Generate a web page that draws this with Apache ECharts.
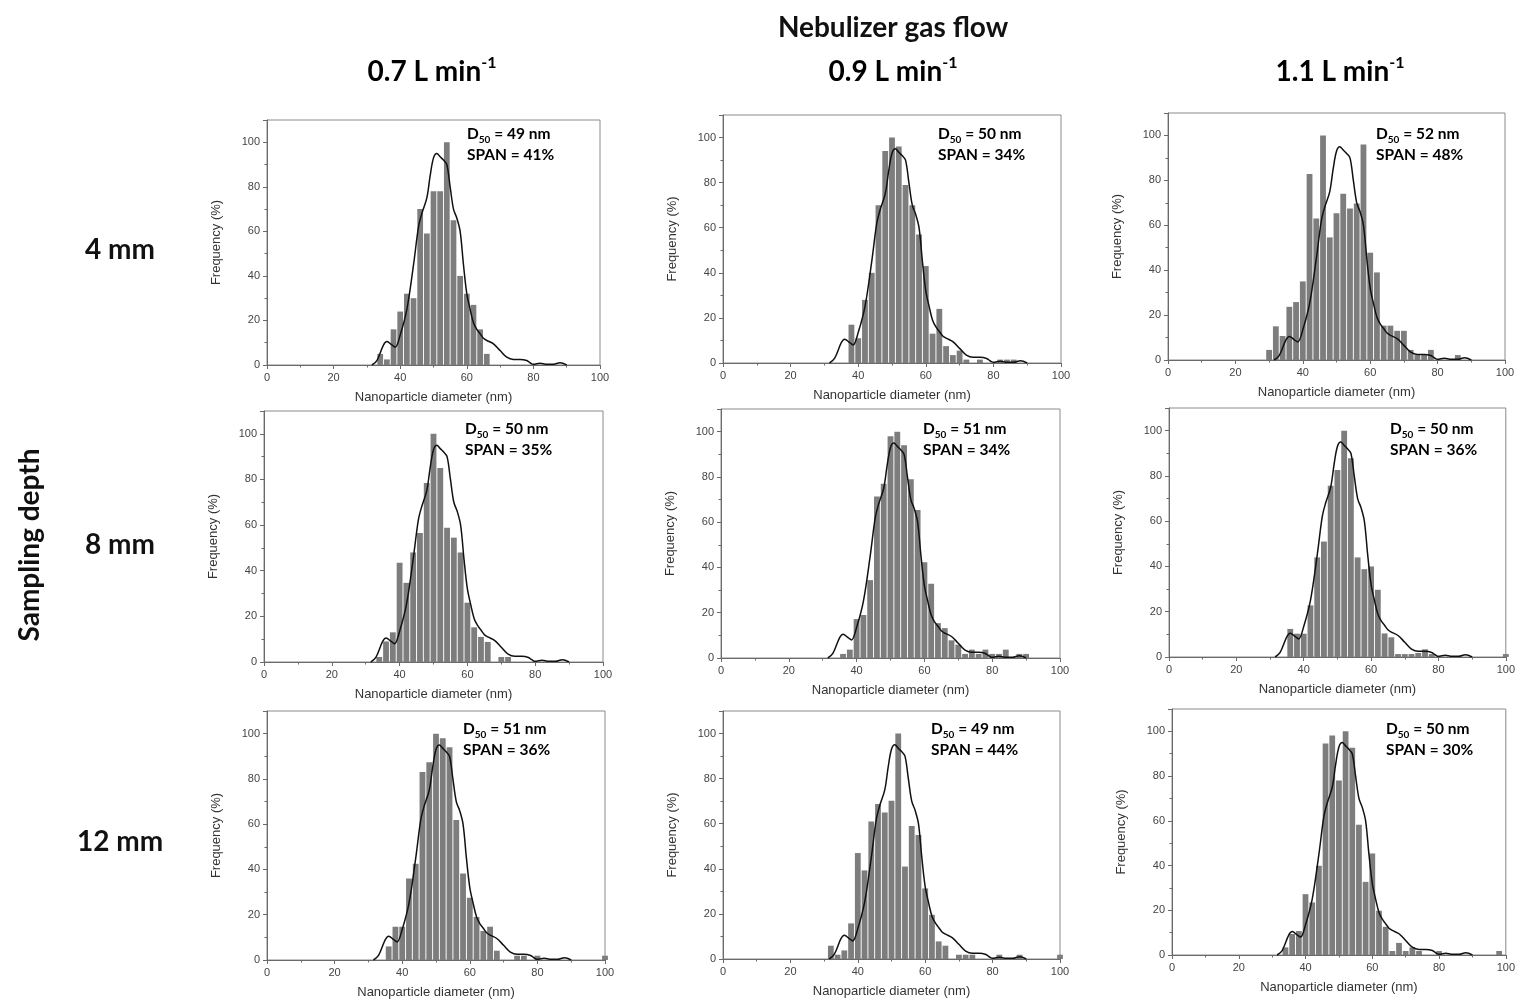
<!DOCTYPE html>
<html><head><meta charset="utf-8">
<script src="https://cdn.jsdelivr.net/npm/echarts@6/dist/echarts.min.js"></script>
<style>html,body{margin:0;padding:0;background:#fff}#c{width:1518px;height:1001px}</style>
</head><body><div id="c"></div><script>
// ---- DATA ----
const flows = ['0.7', '0.9', '1.1'];            // L min^-1
const depths = ['4 mm', '8 mm', '12 mm'];
const bins = [30,32,34,36,38,40,42,44,46,48,50,52,54,56,58,60,62,64,66,68,70,72,74,76,78,80,82,84,86,88,90,92,94,96,98,100];
const f07_d4  = [0,0,5,2.5,16,24,32,30,70,59,78,78,100,65,40,32,27,16,5,0,0,0,0,0,0,0,0,0,0,0,0,0,0,0,0,0];
const f09_d4  = [0,0,0,0,17,11,28,40,70,94,100,96,79,70,57,43,13,24,7.5,3.5,5.5,1.5,0,1.5,0,0,1.5,1.5,1.5,0,0,0,0,0,0,0];
const f11_d4  = [4.5,15,10.7,23.7,25.8,35,82.8,63,100,54.6,65.3,74,67.5,69.7,96,47.8,39,15.3,15.3,13,13,4.5,2.2,2.2,4.5,0,0,0,2.2,0,0,0,0,0,0,0];
const f07_d8  = [0,0,2.2,9,13,43.5,34.7,48,56.5,78.4,100,85,58.8,54.5,48,26,15.2,11,8.8,0,2.2,2.2,0,0,0,0,0,0,0,0,0,0,0,0,0,0];
const f09_d8  = [0,0,0,1.8,3.7,17.2,19,34.4,71.3,77,98,100,94,79,65.4,42.3,32.8,15.4,13.2,7.8,5.9,1.8,3.7,1.8,3.7,1.8,1.8,3.7,0,1.8,1.8,0,0,0,0,0];
const f11_d8  = [0,0,0,12.4,10.3,10.3,22.8,44,51,75.6,82.6,100,87.8,44,38.8,40,29.7,10.4,8.7,1.3,1.3,1.3,1.8,3.4,1.3,0,0,0,0,0,0,0,0,0,0,1.3];
const f07_d12 = [0,0,0,6,14.7,14.7,36,42.5,83,87.4,100,98,94,61.8,38.2,27.5,19,12.8,14.7,4.1,0,0,1.9,1.9,0,1.9,0,0,0,0,0,0,0,0,0,1.9];
const f09_d12 = [0,5.9,1.9,3.8,15.8,47,39.3,61,68.7,65,70.2,100,41,59,55,31.3,19.6,7.8,5.9,0,1.9,1.9,1.9,0,0,0,1.9,0,0,1.9,0,0,0,0,0,1.9];
const f11_d12 = [0,0,3.4,9.4,10.7,27.2,23.5,39.9,94.6,98.2,78,100,92.7,58.2,32.7,45.4,19.8,12.6,1.8,5.4,1.8,3.4,1.8,0,0,1.8,0,0,0,0,0,0,0,0,1.8,0];
const panelValues = [f07_d4, f09_d4, f11_d4, f07_d8, f09_d8, f11_d8, f07_d12, f09_d12, f11_d12];
const d50 = [49, 50, 52, 50, 51, 50, 51, 49, 50];
const span = [41, 34, 48, 35, 34, 36, 36, 44, 30];
// fitted distribution curve (same in every panel)
const curveX = [31.5,33,35,36,37.5,38.5,40,42,44,45.5,46.5,48,49,50,51,52,53,54,55,56,57,58,59,60,61,62,63,64,65,66,68,70,72,74,76,78,79,80,82,84,86,88,90];
const curveY = [0,2,9,10.5,9,8,13.5,25,45,62,68,75,85,93,95,93.5,92,90,80,70,66,60,45,32,25,19,16,14,12,11,9.5,6.5,3.5,2.5,2.5,2,1,0.3,0.8,0.3,0.3,1,0];
const xTicks = {min: 0, max: 100, step: 20};
const yTicks = {min: 0, max: 110, step: 20};

// ---- LAYOUT ----
const gridBoxes = [[267,120,333,245],[723,115,338,248],[1168,113,337,247],
                   [264,411,339,251],[721,409,339,249],[1169,408,339,249],
                   [267,711,338,249],[723,711,337,248],[1172,709,335,246]];
const notePos = [[467,126],[938,126],[1376,126],[465,421],[923,421],[1390,421],[463,721],[931,721],[1386,721]];
const flowPos = [432, 893, 1340];
const depthPos = [250, 545, 842];

const tickFont = 'Liberation Sans, Arial, sans-serif';
const headFont = 'Lato, "Open Sans", sans-serif';
const axisCol = '#6a6a6a';
const headSize = 28;

const grids = [], xAxes = [], yAxes = [], series = [], graphics = [];
gridBoxes.forEach((g, i) => {
  grids.push({left: g[0], top: g[1], width: g[2], height: g[3], show: true, borderColor: '#8a8a8a', borderWidth: 1, containLabel: false});
  xAxes.push({
    type: 'value', gridIndex: i, min: xTicks.min, max: xTicks.max, interval: xTicks.step,
    axisLine: {show: true, onZero: false, lineStyle: {color: axisCol, width: 1}},
    axisTick: {show: true, inside: false, length: 4, lineStyle: {color: axisCol}},
    minorTick: {show: true, splitNumber: 2, length: 2.5, lineStyle: {color: axisCol}},
    splitLine: {show: false},
    axisLabel: {fontSize: 11, color: '#444', margin: 7, fontFamily: tickFont},
    name: 'Nanoparticle diameter (nm)', nameLocation: 'middle', nameGap: 26,
    nameTextStyle: {fontSize: 13, color: '#333', fontFamily: tickFont}
  });
  yAxes.push({
    type: 'value', gridIndex: i, min: yTicks.min, max: yTicks.max, interval: yTicks.step,
    axisLine: {show: true, onZero: false, lineStyle: {color: axisCol, width: 1}},
    axisTick: {show: true, inside: false, length: 4, lineStyle: {color: axisCol}},
    minorTick: {show: true, splitNumber: 2, length: 2.5, lineStyle: {color: axisCol}},
    splitLine: {show: false},
    axisLabel: {fontSize: 11, color: '#444', margin: 7, fontFamily: tickFont, showMaxLabel: false},
    name: 'Frequency (%)', nameLocation: 'middle', nameGap: 44,
    nameTextStyle: {fontSize: 13, color: '#333', fontFamily: tickFont}
  });
  const vals = panelValues[i];
  series.push({
    type: 'bar', xAxisIndex: i, yAxisIndex: i,
    data: bins.map((b, j) => [b, vals[j]]).filter(d => d[1] > 0),
    barWidth: g[2] / 100 * 1.72,
    itemStyle: {color: '#7d7d7d'},
    clip: true, silent: true
  });
  series.push({
    type: 'line', xAxisIndex: i, yAxisIndex: i,
    data: curveX.map((x, j) => [x, curveY[j]]),
    smooth: 0.35, symbol: 'none',
    lineStyle: {color: '#111', width: 1.5},
    silent: true, z: 5
  });
  graphics.push({
    type: 'text', left: notePos[i][0], top: notePos[i][1], z: 10,
    style: {
      text: '{a|D}{s|50}{a| = ' + d50[i] + ' nm}\n{a|SPAN = ' + span[i] + '%}',
      rich: {
        a: {fontSize: 15.5, fontWeight: 'bold', fontFamily: headFont, color: '#111', lineHeight: 21},
        s: {fontSize: 10, fontWeight: 'bold', fontFamily: headFont, color: '#111', lineHeight: 12, verticalAlign: 'bottom'}
      }
    }
  });
});

graphics.push({type: 'text', x: 893, y: 28, z: 10,
  style: {text: 'Nebulizer gas flow', textAlign: 'center', textVerticalAlign: 'middle', fontSize: headSize, fontWeight: 'bold', fontFamily: headFont, fill: '#111'}});
flows.forEach((f, i) => {
  graphics.push({type: 'text', z: 10, x: flowPos[i], y: 72,
    style: {text: '{m|' + f + ' L min}{p|-1}', textAlign: 'center', textVerticalAlign: 'middle',
      rich: {m: {fontSize: headSize, fontWeight: 'bold', fontFamily: headFont, color: '#111', lineHeight: 34},
             p: {fontSize: 16, fontWeight: 'bold', fontFamily: headFont, color: '#111', lineHeight: 18, verticalAlign: 'top'}}}});
});
depths.forEach((d, i) => {
  graphics.push({type: 'text', z: 10, x: 120, y: depthPos[i],
    style: {text: d, textAlign: 'center', textVerticalAlign: 'middle', fontSize: headSize, fontWeight: 'bold', fontFamily: headFont, fill: '#111'}});
});
graphics.push({type: 'text', z: 10, x: 30, y: 545, rotation: Math.PI / 2,
  style: {text: 'Sampling depth', textAlign: 'center', textVerticalAlign: 'middle', fontSize: headSize, fontWeight: 'bold', fontFamily: headFont, fill: '#111'}});

const chart = echarts.init(document.getElementById('c'));
chart.setOption({
  animation: false,
  backgroundColor: '#fff',
  grid: grids, xAxis: xAxes, yAxis: yAxes, series: series, graphic: graphics
});
</script></body></html>
